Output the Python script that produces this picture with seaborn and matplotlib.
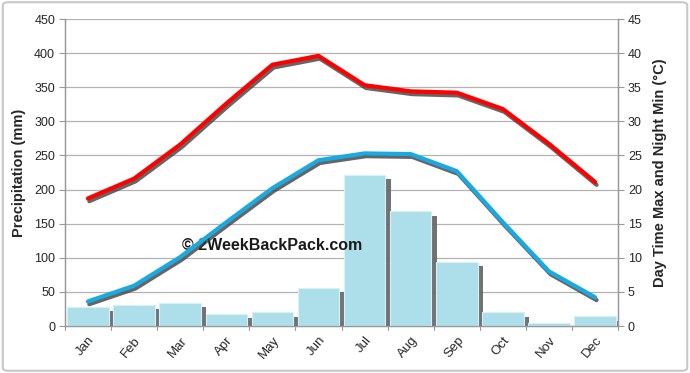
import matplotlib.pyplot as plt
import matplotlib.patheffects as pe
from matplotlib.patches import FancyBboxPatch
import pandas as pd
import seaborn as sns

months = ['Jan', 'Feb', 'Mar', 'Apr', 'May', 'Jun', 'Jul', 'Aug', 'Sep', 'Oct', 'Nov', 'Dec']
precip_mm = [28, 31, 34, 18, 20, 56, 221, 168, 94, 20, 5, 14]
temp_max = [18.7, 21.6, 26.6, 32.6, 38.3, 39.6, 35.3, 34.4, 34.2, 31.8, 26.7, 21.1]
temp_min = [3.6, 5.9, 10.1, 15.2, 20.2, 24.3, 25.3, 25.2, 22.7, 15.2, 8.0, 4.2]

df = pd.DataFrame({'month': months, 'precip': precip_mm, 'tmax': temp_max, 'tmin': temp_min})

sns.set_style('white')
plt.rcParams['font.family'] = ['Liberation Sans', 'DejaVu Sans']

fig = plt.figure(figsize=(6.9, 3.73), dpi=100, facecolor='white')
ax = fig.add_axes([0.094, 0.126, 0.802, 0.823])

# outer frame
fig.patches.append(FancyBboxPatch((0.004, 0.006), 0.992, 0.988, boxstyle='round,pad=0,rounding_size=0.008',
                                  transform=fig.transFigure, fill=False, edgecolor='#c8c8c8', linewidth=1.5))

sns.barplot(data=df, x='month', y='precip', ax=ax, color='#addfeb', saturation=1, width=0.9,
            edgecolor='#d6f1f7', linewidth=0.8, zorder=3)
for bar in ax.patches:
    bar.set_path_effects([pe.SimplePatchShadow(offset=(4, -3), shadow_rgbFace='#6a6a6a', alpha=0.95), pe.Normal()])

ax.set_ylim(0, 450)
ax.set_yticks(range(0, 451, 50))
ax.set_xlim(-0.5, 11.5)
ax.grid(axis='y', color='#b3b3b3', linewidth=0.9, zorder=0)
ax.set_axisbelow(True)
ax.set_ylabel('Precipitation (mm)', fontsize=10.5, fontweight='bold', labelpad=6)
ax.set_xlabel('')
ax.tick_params(axis='y', labelsize=9, length=4, color='#999999', direction='out', left=True, pad=3)
ax.tick_params(axis='x', labelsize=9.5, length=0, pad=6)
ax.set_xticks(range(12))
ax.set_xticklabels(months, rotation=50, ha='right', rotation_mode='anchor')
# tick marks between categories
for i in range(13):
    ax.plot([i - 0.5, i - 0.5], [0, -6], color='#999999', lw=0.8, clip_on=False, zorder=1)

ax.spines['top'].set_visible(False)
for s in ['left', 'right', 'bottom']:
    ax.spines[s].set_color('#999999')
    ax.spines[s].set_linewidth(0.9)

ax2 = ax.twinx()
ax2.set_ylim(0, 45)
ax2.set_yticks(range(0, 46, 5))
shadow = [pe.SimpleLineShadow(offset=(1, -2), shadow_color='#404040', alpha=0.8), pe.Normal()]
sns.lineplot(data=df, x='month', y='tmax', ax=ax2, color='#ff0000', linewidth=3, path_effects=shadow, sort=False)
sns.lineplot(data=df, x='month', y='tmin', ax=ax2, color='#19a9e3', linewidth=3, path_effects=shadow, sort=False)
ax2.set_xlim(-0.5, 11.5)
ax2.set_ylabel('Day Time Max and Night Min (°C)', fontsize=10.5, fontweight='bold', labelpad=8)
ax2.tick_params(axis='y', labelsize=9, length=4, color='#999999', direction='out', right=True, pad=3)
ax2.spines['top'].set_visible(False)
for s in ['left', 'right', 'bottom']:
    ax2.spines[s].set_color('#999999')
    ax2.spines[s].set_linewidth(0.9)

ax.text(0.394, 0.342, '© 2WeekBackPack.com', transform=fig.transFigure, fontsize=11.5, fontweight='bold',
        color='#1a1a1a', ha='center', va='center', zorder=10)

fig.savefig('out.png', dpi=100, facecolor='white')
